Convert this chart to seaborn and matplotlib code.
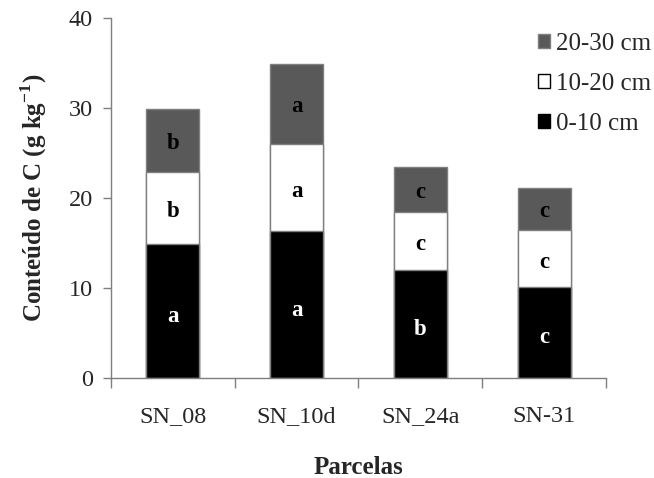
import matplotlib
matplotlib.use("Agg")
import matplotlib.pyplot as plt
import seaborn as sns
import pandas as pd
import numpy as np
from matplotlib.patches import Patch

parcelas = ["SN_08", "SN_10d", "SN_24a", "SN-31"]
c_0_10 = [14.9, 16.3, 12.0, 10.1]
c_10_20 = [8.0, 9.7, 6.5, 6.3]
c_20_30 = [7.0, 8.9, 4.9, 4.7]
letters_0_10 = ["a", "a", "b", "c"]
letters_10_20 = ["b", "a", "c", "c"]
letters_20_30 = ["b", "a", "c", "c"]

sns.set_style("ticks")
plt.rcParams["font.family"] = ["Liberation Serif", "DejaVu Serif"]
plt.rcParams["mathtext.fontset"] = "custom"
plt.rcParams["mathtext.rm"] = "Liberation Serif"
plt.rcParams["mathtext.bf"] = "Liberation Serif:bold"

df = pd.DataFrame({"Parcela": parcelas, "d1": c_0_10, "d2": c_10_20, "d3": c_20_30})
df["cum1"] = df["d1"]
df["cum2"] = df["d1"] + df["d2"]
df["cum3"] = df["cum2"] + df["d3"]

fig = plt.figure(figsize=(6.54, 4.78), dpi=100)
ax = fig.add_axes([0.1697, 0.2092, 0.7569, 0.7531])

edge = "#7f7f7f"
w = 0.43
sns.barplot(data=df, x="Parcela", y="cum3", color="#595959", edgecolor=edge,
            linewidth=1.0, width=w, saturation=1, ax=ax)
sns.barplot(data=df, x="Parcela", y="cum2", color="#ffffff", edgecolor=edge,
            linewidth=1.0, width=w, saturation=1, ax=ax)
sns.barplot(data=df, x="Parcela", y="cum1", color="#000000", edgecolor=edge,
            linewidth=1.0, width=w, saturation=1, ax=ax)

fs_l = 16.5
for i in range(len(parcelas)):
    ax.text(i, df["cum1"][i] / 2 - 0.6, letters_0_10[i], ha="center", va="center",
            color="white", fontsize=fs_l, fontweight="bold")
    ax.text(i, (df["cum1"][i] + df["cum2"][i]) / 2 - 0.4, letters_10_20[i], ha="center",
            va="center", color="black", fontsize=fs_l, fontweight="bold")
    ax.text(i, (df["cum2"][i] + df["cum3"][i]) / 2 - 0.3, letters_20_30[i], ha="center",
            va="center", color="black", fontsize=fs_l, fontweight="bold")

fs = 17.5
ax.set_xlim(-0.5, 3.5)
ax.set_ylim(0, 40)
ax.set_yticks([0, 10, 20, 30, 40])
ax.set_xticks(range(len(parcelas)))
ax.set_xticklabels(parcelas)
ax.set_xticks(np.arange(-0.5, 4.0, 1.0), minor=True)
ax.tick_params(axis="x", which="major", length=0, pad=20, labelsize=fs)
ax.tick_params(axis="x", which="minor", length=7, width=1, color=edge, direction="out")
ax.tick_params(axis="y", length=6, width=1, color=edge, labelsize=fs, pad=7)

for s in ["top", "right"]:
    ax.spines[s].set_visible(False)
for s in ["left", "bottom"]:
    ax.spines[s].set_color(edge)
    ax.spines[s].set_linewidth(1)

ax.set_xlabel("Parcelas", fontsize=18, fontweight="bold", labelpad=21)
ax.set_ylabel(r"Conteúdo de C (g kg$^{\mathbf{-1}}$)", fontsize=18, fontweight="bold",
              labelpad=14)

handles = [Patch(facecolor="#595959", edgecolor=edge, label="20-30 cm"),
           Patch(facecolor="#ffffff", edgecolor="black", label="10-20 cm"),
           Patch(facecolor="#000000", edgecolor="black", label="0-10 cm")]
ax.legend(handles=handles, loc="upper left", bbox_to_anchor=(0.862, 0.958), frameon=False,
          fontsize=18, handlelength=0.5, handleheight=0.5, handletextpad=0.25,
          labelspacing=0.72, borderaxespad=0, borderpad=0)

fig.savefig("out.png", dpi=100)
